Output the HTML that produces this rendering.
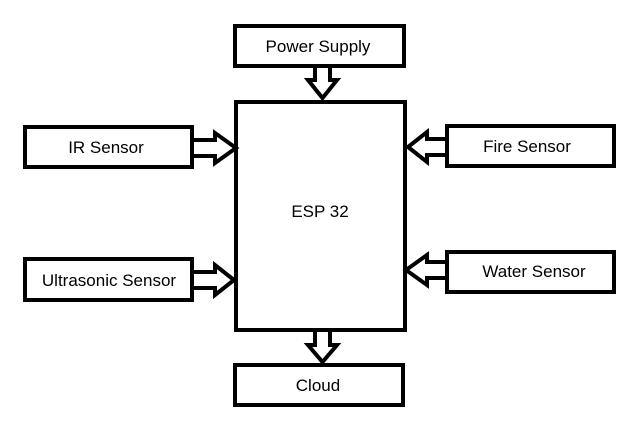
<!DOCTYPE html>
<html><head><style>body{margin:0;background:#fff}svg{display:block}</style></head><body>
<svg width="641" height="435" viewBox="0 0 641 435" xmlns="http://www.w3.org/2000/svg">
<g fill="#fff" stroke="#000" stroke-width="4" stroke-linejoin="miter">
<rect x="235" y="26" width="169" height="40"/>
<rect x="236" y="102" width="169" height="228"/>
<rect x="235" y="365" width="168" height="40"/>
<rect x="25" y="127" width="167" height="40"/>
<rect x="447" y="126" width="167" height="40"/>
<rect x="25" y="259" width="167" height="41"/>
<rect x="447" y="252" width="167" height="40"/>
<!-- power arrow down -->
<polygon points="315,66 330,66 330,80 337,80 322.5,98 308,80 315,80"/>
<!-- cloud arrow down -->
<polygon points="315,330 330,330 330,345 337,345 322.5,362 308,345 315,345"/>
<!-- IR arrow right -->
<polygon points="192,140 215,140 215,133 236,148 215,163 215,156 192,156"/>
<!-- Ultrasonic arrow right -->
<polygon points="192,272 215,272 215,265 234,280 215,295 215,288 192,288"/>
<!-- Fire arrow left -->
<polygon points="447,139 427,139 427,132 408,147 427,162 427,155 447,155"/>
<!-- Water arrow left -->
<polygon points="447,262 427,262 427,255 406,270 427,285 427,278 447,278"/>
</g>
<g font-family="'Liberation Sans',sans-serif" font-size="17" fill="#000" text-anchor="middle">
<text x="318" y="52">Power Supply</text>
<text x="320" y="217">ESP 32</text>
<text x="318" y="391">Cloud</text>
<text x="106" y="153">IR Sensor</text>
<text x="527" y="152">Fire Sensor</text>
<text x="109" y="286">Ultrasonic Sensor</text>
<text x="534" y="277">Water Sensor</text>
</g>
</svg>
</body></html>
